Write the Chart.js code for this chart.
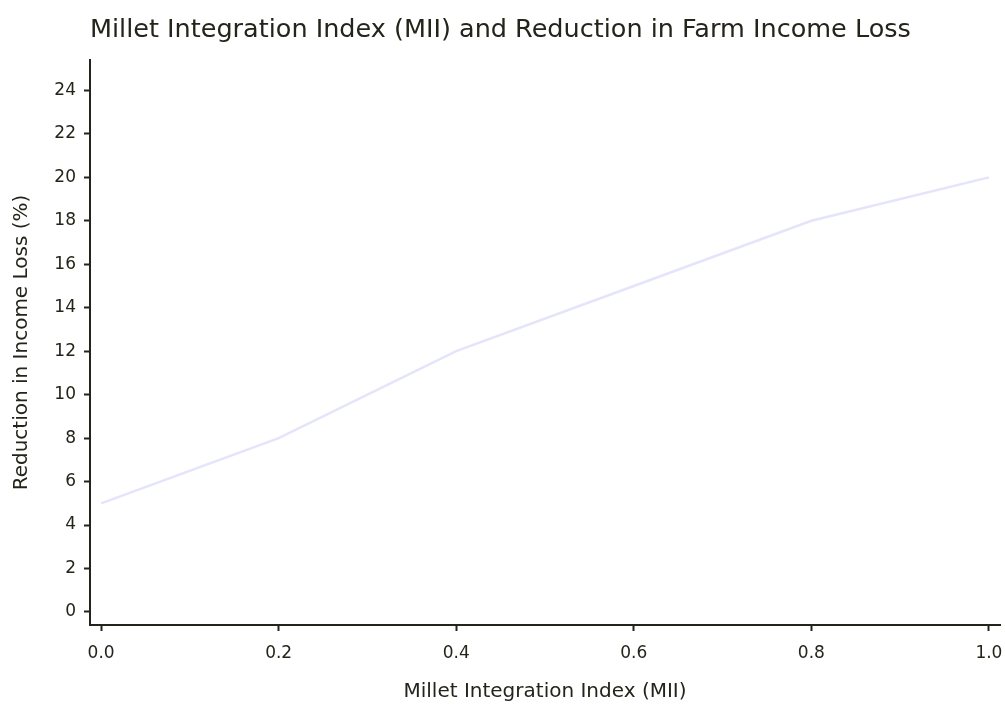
<!DOCTYPE html>
<html>
<head>
<meta charset="utf-8">
<script src="https://cdn.jsdelivr.net/npm/chart.js@4/dist/chart.umd.min.js"></script>
<style>
  html, body { margin: 0; padding: 0; background: #fff; }
  #wrap { width: 1005px; height: 704px; position: relative; }
</style>
</head>
<body>
<div id="wrap"><canvas id="chart"></canvas></div>
<script>
// Data
const mii = [0.0, 0.2, 0.4, 0.6, 0.8, 1.0];
const incomeLossReduction = [5, 8, 12, 15, 18, 20];
const xTicks = [0.0, 0.2, 0.4, 0.6, 0.8, 1.0];
const yTicks = [0, 2, 4, 6, 8, 10, 12, 14, 16, 18, 20, 22, 24];

const titleText = 'Millet Integration Index (MII) and Reduction in Farm Income Loss';
const ink = '#24241a';
const fontFamily = '"DejaVu Sans", Verdana, sans-serif';

// main title drawn left-aligned with the plot area
const titlePlugin = {
    id: 'leftTitle',
    afterDraw(chart) {
        const ctx = chart.ctx;
        ctx.save();
        ctx.fillStyle = ink;
        ctx.font = '25.5px ' + fontFamily;
        ctx.textBaseline = 'middle';
        ctx.fillText(titleText, 90, 30);
        ctx.restore();
    }
};

const ctx = document.getElementById('chart');
new Chart(ctx, {
    type: 'line',
    data: {
        datasets: [{
            label: 'Reduction in Income Loss',
            data: mii.map((x, i) => ({ x: x, y: incomeLossReduction[i] })),
            borderColor: '#e4e4fa',
            borderWidth: 2.5,
            pointRadius: 0,
            tension: 0,
            fill: false
        }]
    },
    options: {
        responsive: true,
        maintainAspectRatio: false,
        animation: false,
        layout: { padding: { top: 60, right: 5, bottom: 0, left: 0 } },
        plugins: {
            legend: { display: false },
            tooltip: { enabled: false },
            title: { display: false }
        },
        scales: {
            x: {
                type: 'linear',
                min: -0.0125,
                max: 1.0125,
                afterBuildTicks: (scale) => { scale.ticks = xTicks.map(v => ({ value: v })); },
                afterFit: (scale) => {
                    scale.height = 79;
                    scale.paddingLeft = 0;
                    scale.paddingRight = 0;
                },
                border: { display: true, color: ink, width: 2 },
                grid: { drawOnChartArea: false, drawTicks: true, tickLength: 6, tickColor: ink, tickWidth: 2 },
                ticks: {
                    color: ink,
                    font: { family: fontFamily, size: 17 },
                    padding: 12,
                    maxRotation: 0,
                    callback: (v) => Number(v).toFixed(1)
                },
                title: {
                    display: true,
                    text: 'Millet Integration Index (MII)',
                    color: ink,
                    font: { family: fontFamily, size: 20 },
                    padding: { top: 0, bottom: 0 }
                }
            },
            y: {
                type: 'linear',
                min: -0.6,
                max: 25.4,
                afterBuildTicks: (scale) => { scale.ticks = yTicks.map(v => ({ value: v })); },
                afterFit: (scale) => {
                    scale.width = 90;
                    scale.paddingTop = 0;
                    scale.paddingBottom = 0;
                },
                border: { display: true, color: ink, width: 2 },
                grid: { drawOnChartArea: false, drawTicks: true, tickLength: 6, tickColor: ink, tickWidth: 2 },
                ticks: {
                    color: ink,
                    font: { family: fontFamily, size: 17 },
                    padding: 8
                },
                title: {
                    display: true,
                    text: 'Reduction in Income Loss (%)',
                    color: ink,
                    font: { family: fontFamily, size: 20 },
                    padding: { top: 10, bottom: 0 }
                }
            }
        }
    },
    plugins: [titlePlugin]
});
</script>
</body>
</html>
